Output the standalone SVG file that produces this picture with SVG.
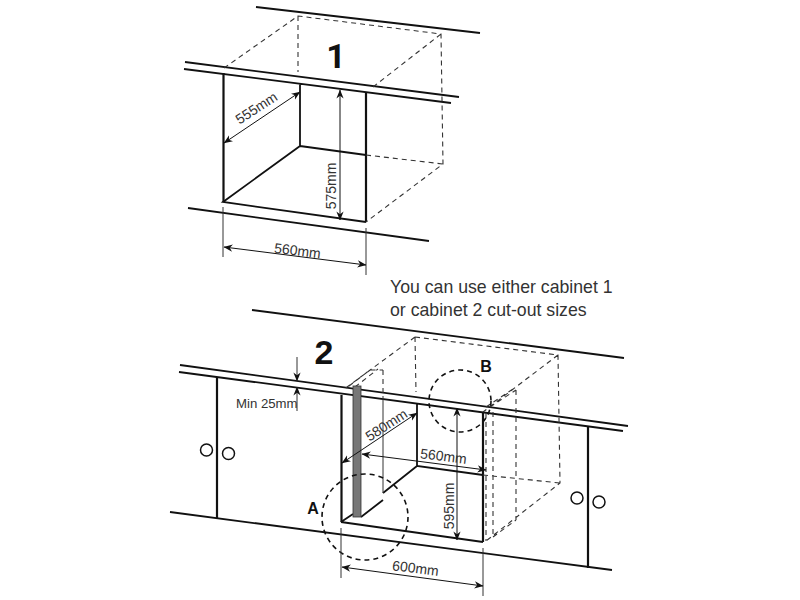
<svg xmlns="http://www.w3.org/2000/svg" width="800" height="600" viewBox="0 0 800 600">
<defs>
<marker id="a" viewBox="0 0 10 10" refX="9.5" refY="5" markerWidth="9" markerHeight="9" markerUnits="userSpaceOnUse" orient="auto-start-reverse"><path d="M0 1L10 5L0 9L3 5Z" fill="#111"/></marker>
</defs>
<style>
text{font-family:"Liberation Sans",Arial,sans-serif;fill:#333}
.m{font-size:14px}
.b{font-weight:bold;fill:#111}
.n{font-family:Roboto,"Liberation Sans",sans-serif;font-weight:bold;fill:#111}
.s{stroke:#111;stroke-width:1.8;fill:none}
.h{stroke:#111;stroke-width:2.2;fill:none}
.d{stroke:#333;stroke-width:1.1;stroke-dasharray:5 4;fill:none}
.t{stroke:#333;stroke-width:1;fill:none}
.r{stroke:#111;stroke-width:1;fill:none;marker-start:url(#a);marker-end:url(#a)}
.c{stroke:#111;stroke-width:1.6;stroke-dasharray:5 4;fill:none}
.o{stroke:#111;stroke-width:1.5;fill:#fff}
</style>
<rect width="800" height="600" fill="#fff"/>
<g id="cabinet-1">
<path class="s" d="M256 7L480 33M185 62L459 97M184 69L451 103M188 208L429 241M300 84V146L223 202L366 222M300 146L366 155"/>
<path class="h" d="M223.500 73V202M366 92V222"/>
<path class="d" d="M224 68L298 16L441 34L443 164L366 222M298 16V72M373 87L441 34M366 155L443 164"/>
</g>
<g id="cabinet-2">
<path class="s" d="M252 310L624 358M180 365L628 426M179 372L623 431M170 512L612 570M417 403V466L483 475M341 522L483 542M361 517L383 500M383 493L417 466M341 522L353 514"/>
<path class="h" d="M217 377V518M341.500 395V522M483 413V542M588 427V568"/>
<path class="t" d="M383 396V493"/>
<path class="d" d="M415 337L558 355L560 483L486 541M415 337L416 392M415 337L343 390M558 355L483 412M383 370V396M349 386L370 370L383 370M355 387L378 369M486 413V541M486 407L513 389M490 407L516 390M493 412V537M516 390V520M493 537L516 520M483 475L560 483"/>
<rect x="353" y="386" width="8" height="131" fill="#777" stroke="#333" stroke-width="0.8"/>
<circle class="o" cx="206.500" cy="450" r="6"/><circle class="o" cx="228.500" cy="453.500" r="6"/>
<circle class="o" cx="577" cy="498" r="6"/><circle class="o" cx="599" cy="502" r="6"/>
<circle class="c" cx="365" cy="517" r="43"/>
<ellipse class="c" cx="460" cy="401" rx="31" ry="31"/>
</g>
<g id="connectors">
<path class="t" d="M223 207V257M366 228V275M341 528V578M483 548V596"/>
<line class="r" x1="224" y1="247" x2="366" y2="265"/>
<line class="r" x1="224" y1="143" x2="300" y2="92"/>
<line class="r" x1="340" y1="90" x2="340" y2="220"/>
<line class="r" x1="342" y1="463" x2="417" y2="413"/>
<line class="r" x1="362" y1="454" x2="486" y2="470"/>
<line class="r" x1="457" y1="408" x2="457" y2="540"/>
<line class="r" x1="342" y1="567" x2="483" y2="586"/>
<path class="t" marker-end="url(#a)" d="M297 357V381"/>
<path class="t" marker-end="url(#a)" d="M297 411V387"/>
</g>
<g id="labels">
<text class="n" x="336" y="68" font-size="34" text-anchor="middle">1</text>
<text class="b" x="324" y="364" font-size="34" text-anchor="middle">2</text>
<text class="b" x="313" y="514" font-size="16" text-anchor="middle">A</text>
<text class="b" x="486" y="372" font-size="16" text-anchor="middle">B</text>
<text x="390" y="293" font-size="17.700">You can use either cabinet 1</text>
<text x="390" y="316" font-size="17.700">or cabinet 2 cut-out sizes</text>
<text x="236" y="408" font-size="13.200">Min 25mm</text>
<text class="m" text-anchor="middle" transform="translate(259 112) rotate(-33)">555mm</text>
<text class="m" text-anchor="middle" transform="translate(336 186) rotate(-90)">575mm</text>
<text class="m" text-anchor="middle" transform="translate(297 255.500) rotate(7)">560mm</text>
<text class="m" text-anchor="middle" transform="translate(389 429) rotate(-33)">580mm</text>
<text class="m" text-anchor="middle" transform="translate(443 461) rotate(7)">560mm</text>
<text class="m" text-anchor="middle" transform="translate(454 506) rotate(-90)">595mm</text>
<text class="m" text-anchor="middle" transform="translate(415 573) rotate(7)">600mm</text>
</g>
</svg>
